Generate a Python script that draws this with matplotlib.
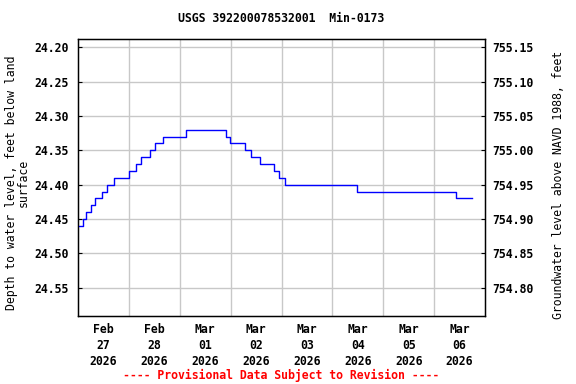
import matplotlib
matplotlib.use("Agg")
import matplotlib.pyplot as plt
import pandas as pd

# step changes in depth to water (feet below land surface)
change_times = ["2026-02-27 00:00", "2026-02-27 02:30", "2026-02-27 04:00", "2026-02-27 06:15",
                "2026-02-27 08:15", "2026-02-27 11:15", "2026-02-27 13:45", "2026-02-27 17:00",
                "2026-02-28 00:15", "2026-02-28 03:30", "2026-02-28 05:45", "2026-02-28 09:45",
                "2026-02-28 12:30", "2026-02-28 16:15", "2026-03-01 03:00", "2026-03-01 21:45",
                "2026-03-01 23:45", "2026-03-02 06:45", "2026-03-02 09:30", "2026-03-02 14:00",
                "2026-03-02 20:15", "2026-03-02 23:00", "2026-03-03 01:45", "2026-03-04 11:45",
                "2026-03-06 10:15", "2026-03-06 17:45"]
depth = [24.46, 24.45, 24.44, 24.43, 24.42, 24.41, 24.40, 24.39,
         24.38, 24.37, 24.36, 24.35, 24.34, 24.33, 24.32, 24.33,
         24.34, 24.35, 24.36, 24.37, 24.38, 24.39, 24.40, 24.41,
         24.42, 24.42]

datum_sum = 779.35  # depth + elevation (NAVD 1988)
left_ticks = [24.20, 24.25, 24.30, 24.35, 24.40, 24.45, 24.50, 24.55]
right_ticks = [755.15, 755.10, 755.05, 755.00, 754.95, 754.90, 754.85, 754.80]
day_labels = ["Feb\n27\n2026", "Feb\n28\n2026", "Mar\n01\n2026", "Mar\n02\n2026",
              "Mar\n03\n2026", "Mar\n04\n2026", "Mar\n05\n2026", "Mar\n06\n2026"]

t = pd.to_datetime(change_times)
plt.rcParams['font.family'] = 'DejaVu Sans Mono'
plt.rcParams['font.weight'] = 'bold'
fs = 8.3

fig = plt.figure(figsize=(5.76, 3.84), dpi=100)
ax = fig.add_axes([78/576, 1-316/384, 407/576, 277/384])
ax.plot(t, depth, drawstyle='steps-post', color='#0000ff', lw=1, zorder=3)

ax.set_xlim(pd.Timestamp("2026-02-27"), pd.Timestamp("2026-03-07"))
ax.set_ylim(24.5912, 24.188)

midnights = pd.date_range("2026-02-28", "2026-03-06", freq="D")
noons = pd.date_range("2026-02-27 12:00", "2026-03-06 12:00", freq="D")
ax.set_xticks(midnights)
ax.set_xticklabels([])
ax.set_xticks(noons, minor=True)
ax.set_xticklabels(day_labels, minor=True, fontsize=fs, linespacing=1.3)
ax.tick_params(axis='x', which='both', length=0)
ax.tick_params(axis='x', which='minor', pad=5)

ax.set_yticks(left_ticks)
ax.set_yticklabels(["%.2f" % v for v in left_ticks], fontsize=fs)
ax.tick_params(axis='y', direction='in', length=3, pad=7)
ax.grid(True, color='#c8c8c8', lw=1)
for s in ax.spines.values():
    s.set_linewidth(1)

ax2 = ax.twinx()
ax2.set_ylim(datum_sum - 24.5912, datum_sum - 24.188)
ax2.set_yticks(right_ticks)
ax2.set_yticklabels(["%.2f" % v for v in right_ticks], fontsize=fs)
ax2.tick_params(axis='y', direction='in', length=3, pad=5)

ax.set_ylabel("Depth to water level, feet below land\nsurface", fontsize=fs, linespacing=0.9)
ax.yaxis.set_label_coords(-0.118, 0.48)
ax2.set_ylabel("Groundwater level above NAVD 1988, feet", fontsize=fs)
ax2.yaxis.set_label_coords(1.165, 0.473)

fig.text(281.5/576, 1-19/384, "USGS 392200078532001  Min-0173", ha='center', va='center', fontsize=fs)
fig.text(281.5/576, 1-375/384, "---- Provisional Data Subject to Revision ----",
         ha='center', va='center', fontsize=fs, color='red')

fig.savefig("out.png", dpi=100)
